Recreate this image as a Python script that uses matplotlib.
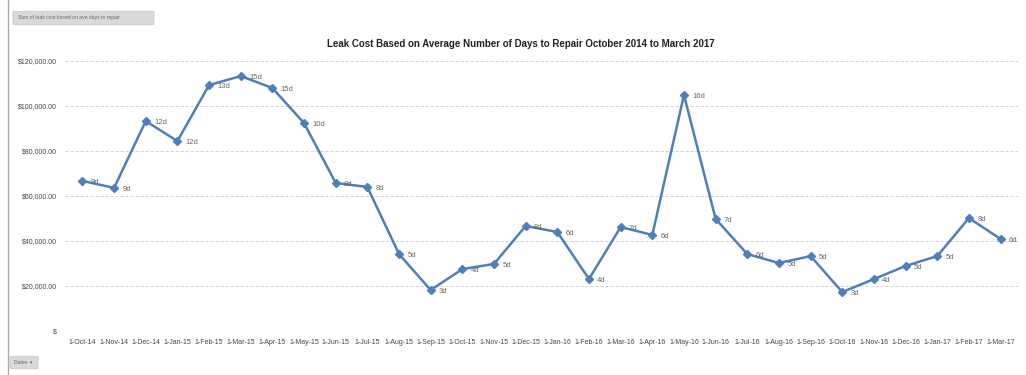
import matplotlib.pyplot as plt
from matplotlib.patches import FancyBboxPatch

# Monthly leak cost and average days to repair
months = ['1-Oct-14', '1-Nov-14', '1-Dec-14', '1-Jan-15', '1-Feb-15', '1-Mar-15',
          '1-Apr-15', '1-May-15', '1-Jun-15', '1-Jul-15', '1-Aug-15', '1-Sep-15',
          '1-Oct-15', '1-Nov-15', '1-Dec-15', '1-Jan-16', '1-Feb-16', '1-Mar-16',
          '1-Apr-16', '1-May-16', '1-Jun-16', '1-Jul-16', '1-Aug-16', '1-Sep-16',
          '1-Oct-16', '1-Nov-16', '1-Dec-16', '1-Jan-17', '1-Feb-17', '1-Mar-17']
cost = [66700, 63600, 93300, 84400, 109300, 113300,
        108000, 92400, 65800, 64000, 34200, 18200,
        27500, 29800, 46700, 44000, 23100, 46200,
        42700, 104900, 49800, 34200, 30200, 33300,
        17300, 23100, 28900, 33300, 50200, 40900]
days = ['9d', '9d', '12d', '12d', '13d', '15d',
        '15d', '10d', '8d', '8d', '5d', '3d',
        '4d', '5d', '8d', '6d', '4d', '7d',
        '6d', '16d', '7d', '6d', '5d', '5d',
        '3d', '4d', '5d', '5d', '8d', '6d']
yticks = [0, 20000, 40000, 60000, 80000, 100000, 120000]
ylabels = ['$', '$20,000.00', '$40,000.00', '$60,000.00', '$80,000.00',
           '$100,000.00', '$120,000.00']

plt.rcParams['font.family'] = ['Liberation Sans', 'DejaVu Sans']

fig = plt.figure(figsize=(10.26, 3.75), dpi=100)
ax = fig.add_axes([65/1026, 1-331/375, (1018-65)/1026, (331-61)/375])

x = range(len(months))
ax.plot(x, cost, color='#4f7fb8', lw=1.8, marker='D', ms=4.5,
        markerfacecolor='#4f7fb8', markeredgecolor='#4f7fb8')

for i, (v, d) in enumerate(zip(cost, days)):
    ax.annotate(d, (i, v), xytext=(6, -1), textcoords='offset points',
                fontsize=5.5, color='#666666', va='center', ha='left')

ax.set_xlim(-0.55, len(months) - 0.45)
ax.set_ylim(0, 120000)
ax.set_xticks(list(x))
ax.set_xticklabels(months, fontsize=5, color='#444444')
ax.set_yticks(yticks)
ax.set_yticklabels(ylabels, fontsize=5, color='#444444')
ax.tick_params(length=0, pad=6)
ax.grid(axis='y', color='#cccccc', ls=(0, (4, 2)), lw=0.6)
for s in ax.spines.values():
    s.set_visible(False)
ax.axhline(0, color='#cccccc', ls=(0, (4, 2)), lw=0.6)

fig.text(521/1026, 1-44/375,
         'Leak Cost Based on Average Number of Days to Repair October 2014 to March 2017',
         ha='center', va='center', fontsize=7, fontweight='bold', color='#222222')

# chart frame line on the left
fig.add_artist(plt.Line2D([8/1026, 8/1026], [0, 1], color='#aaaaaa', lw=1))

# pivot field buttons
fig.add_artist(FancyBboxPatch((15/1026, 1-24/375), 137/1026, 12/375,
                              boxstyle='round,pad=0.002', fc='#d9d9d9', ec='#c4c4c4', lw=0.5))
fig.text(18/1026, 1-18/375, 'Sum of leak cost based on ave days to repair',
         fontsize=3.6, color='#666666', va='center')
fig.add_artist(FancyBboxPatch((12/1026, 1-368/375), 24/1026, 11/375,
                              boxstyle='round,pad=0.002', fc='#d9d9d9', ec='#c4c4c4', lw=0.5))
fig.text(14/1026, 1-362/375, 'Dates  \u25be', fontsize=3.6, color='#666666', va='center')

fig.savefig('out.png', dpi=100, facecolor='white')
